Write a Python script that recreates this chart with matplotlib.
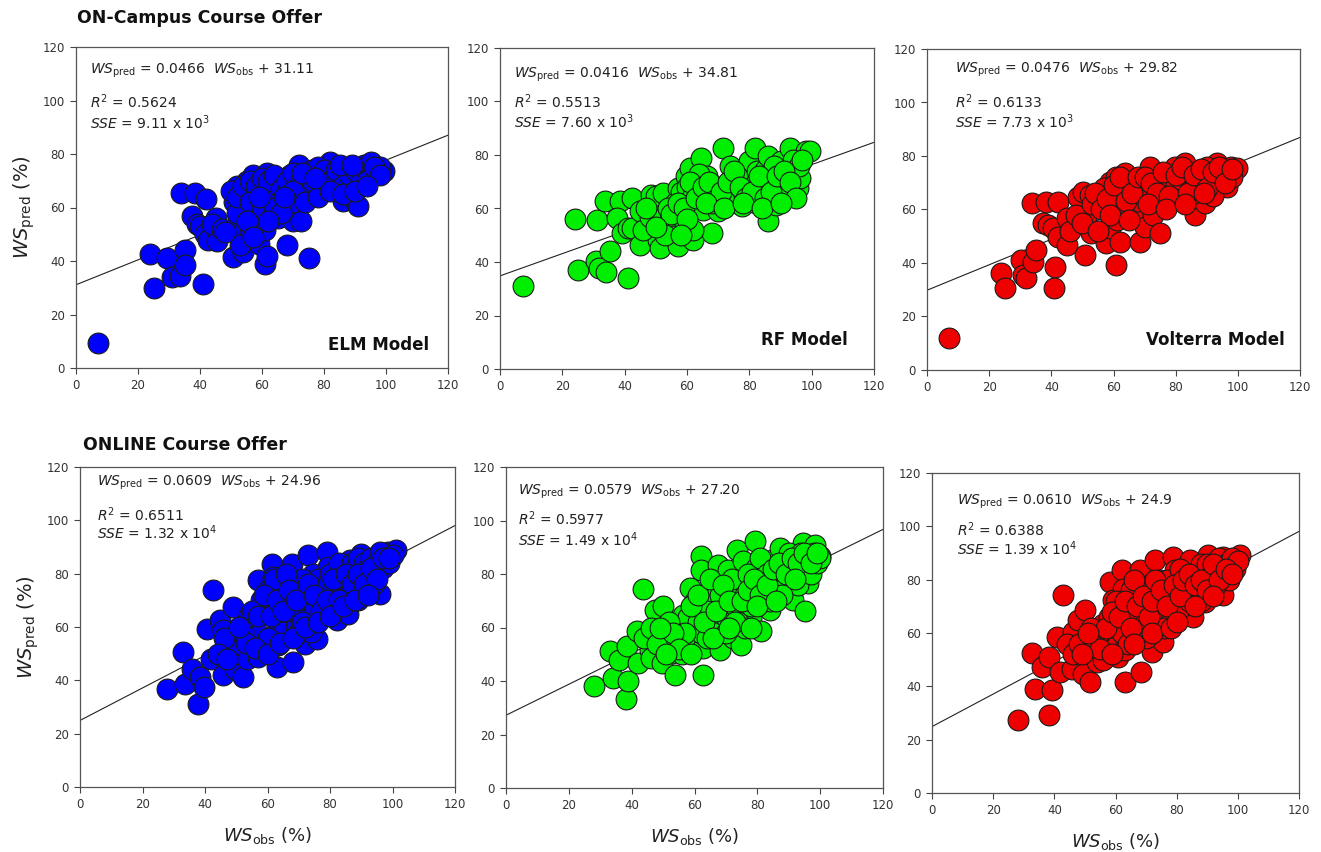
import numpy as np
import matplotlib
matplotlib.use("Agg")
import matplotlib.pyplot as plt

# ── data ────────────────────────────────────────────────────
# (WS_obs, WS_pred) pairs per model

elm_campus = [
    (7, 9.5), (24, 42.5), (25, 30), (29.5, 41), (31, 34), (33.5, 34.5), (35, 44), (35, 38.5),
    (34, 65.5), (38.5, 65.5), (42, 63), (37.5, 57), (39, 54), (40, 53), (41.5, 50), (41, 31.5),
    (42.5, 48), (45, 56), (45.5, 47.5), (44, 54), (47, 52), (50.5, 41.5), (51, 62), (51.5, 53),
    (53, 50), (54, 43.5), (52, 68), (50, 66), (55, 70), (56, 66), (57, 72), (58.5, 57),
    (59, 46.5), (61, 39), (61.5, 42), (61, 51.5), (61.5, 73), (63, 62), (60, 67), (64, 69),
    (65.5, 70.5), (65, 56), (66, 63), (67.5, 60), (68, 46), (69, 72), (70, 55), (71, 67),
    (72.5, 55), (72, 76), (73, 69), (74, 71), (75, 64), (75, 41), (76, 74), (77, 68),
    (78.5, 69), (79, 73), (80, 66), (81, 75.5), (82, 77), (83, 72), (84, 70), (85, 71),
    (86, 62.5), (87, 74), (88, 67), (89, 64), (90, 70), (91, 60.5), (92, 68), (93, 76),
    (94, 74), (95, 77), (96, 72), (97, 73.5), (99.5, 73.5), (58, 62), (55, 59), (62, 58),
    (54, 64), (63, 66), (68, 65), (70, 62), (80, 71), (84, 66), (92, 72), (98, 75),
    (56, 51), (58, 54), (52, 58), (53, 46),
    (52, 64), (54, 68), (56, 70), (58, 68), (60, 71), (62, 70), (64, 72), (66, 67), (68, 70),
    (70, 73), (72, 68), (74, 66), (76, 70), (78, 75), (80, 74), (82, 70), (84, 74), (86, 68),
    (88, 72), (90, 74), (92, 70), (94, 70), (96, 75), (98, 72), (56, 62), (60, 60), (64, 60),
    (66, 58), (70, 66), (74, 62), (78, 64), (82, 66), (86, 65), (90, 66), (94, 68), (48, 51),
    (55, 55), (57, 49), (62, 55), (59, 64), (67, 64), (73, 73), (77, 71), (85, 76), (89, 76),
]

rf_campus = [
    (7.3, 31.2), (24, 56.1), (25.1, 36.9), (31, 55.8), (30.7, 40.2), (31.8, 37.8), (34, 36.1),
    (35.3, 44), (33.7, 62.7), (38.5, 62.7), (42.5, 64), (37.4, 56.4), (39, 50.8), (41.1, 52.7),
    (42.2, 52.7), (41.1, 34), (44.9, 59), (44.9, 46.5), (48.6, 65.2), (50.2, 64.5), (52.4, 65.8),
    (50.8, 57.1), (50.8, 48.3), (51.3, 45.2), (52.9, 54.6), (55.6, 49.6), (57.2, 45.9),
    (57.2, 67.7), (59.3, 54.6), (59.8, 72), (61.8, 48.3), (60.9, 75.1), (61.6, 59.6),
    (64.6, 78.9), (66.3, 72), (65.2, 59.6), (67.9, 50.8), (69.5, 67), (70, 59), (71.6, 82.6),
    (73.7, 75.8), (74.8, 68.9), (75.3, 63.3), (75.9, 62.1), (77.5, 60.8), (79.1, 70.8),
    (79.9, 77.6), (81.7, 82.6), (82.3, 73.9), (83.3, 68.3), (85, 74.5), (86, 55.2), (86, 79.5),
    (87.6, 70.8), (88.7, 61.4), (90.3, 77.6), (91.9, 65.8), (92.9, 82.6), (94.6, 74.5),
    (95.6, 67.7), (96.2, 71.4), (98.3, 81.4), (99.4, 81.4), (56, 62), (58, 66), (60, 68),
    (62, 65), (63, 70), (64, 73), (66, 66), (68, 62), (70, 68), (72, 64), (76, 72), (78, 66),
    (80, 64), (82, 62), (84, 66), (86, 70), (88, 76), (90, 68), (92, 72), (94, 78), (96, 76),
    (46, 52), (48, 57), (54, 60), (53, 50), (62, 52),
    (55, 58), (57, 62), (59, 60), (61, 70), (63, 64), (65, 68), (67, 70), (69, 63), (71, 66),
    (73, 70), (75, 74), (77, 68), (79, 64), (81, 66), (83, 72), (85, 64), (87, 66), (89, 72),
    (91, 74), (93, 70), (95, 64), (97, 78), (60, 56), (66, 62), (72, 60), (78, 62), (84, 60),
    (90, 62), (50, 53), (47, 60), (58, 50),
]

volterra_campus = [
    (7, 11.8), (23.9, 36.1), (25, 30.5), (30.4, 41.1), (30.9, 35.5), (32, 34.3), (34.1, 40.5),
    (35, 44.9), (33.9, 62.6), (38.4, 62.9), (42.2, 62.9), (37.3, 55.1), (38.9, 54.2),
    (40.6, 53), (41.1, 38.6), (40.9, 30.5), (42.2, 49.8), (44.9, 56.7), (44.9, 46.7),
    (48.7, 64.8), (50.2, 66.7), (51.3, 57.3), (50.8, 43), (52.9, 51.1), (52.4, 65.4),
    (56.7, 66), (57.7, 47.4), (58.8, 53), (58.8, 70.4), (60.9, 72.3), (60.9, 39.3), (62, 48),
    (64.2, 59.8), (63.6, 73.5), (65.8, 70.4), (67.4, 59.8), (68.5, 48), (70.1, 53.6),
    (71.7, 76), (72.8, 57.9), (74.4, 70.4), (74.9, 51.1), (76, 63.6), (78.1, 68.5), (79.7, 76),
    (81.4, 73.5), (83, 77.3), (84.6, 70.4), (85.1, 67.3), (86.2, 57.9), (88.4, 63.6),
    (89.4, 62.3), (91, 72.3), (93.2, 77.3), (95.3, 73.5), (96.4, 68.5), (97.9, 76), (99.6, 75.4),
    (55, 62), (57, 68), (60, 64), (62, 67), (64, 66), (66, 70), (68, 63), (70, 68), (72, 66),
    (76, 70), (78, 72), (80, 69), (82, 64), (84, 74), (86, 66), (88, 70), (90, 76), (92, 65),
    (94, 71), (96, 74), (98, 72), (46, 52), (48, 58), (53, 62), (61, 56), (63, 60),
    (54, 66), (56, 60), (58, 64), (60, 69), (62, 72), (64, 63), (66, 66), (68, 72), (70, 72),
    (72, 70), (74, 66), (76, 74), (78, 65), (80, 73), (82, 76), (84, 66), (86, 73), (88, 75),
    (90, 68), (92, 74), (94, 76), (96, 70), (98, 75), (59, 58), (65, 56), (71, 62), (77, 60),
    (83, 62), (89, 66), (50, 55), (55, 52),
]

elm_online = [
    (27.7, 36.9), (33, 50.6), (33.6, 38.8), (35.7, 44.4), (37.8, 31.3), (38.4, 41.3),
    (39.6, 37.5), (40.5, 59.4), (41.8, 48.1), (42.6, 73.8), (45.8, 41.9), (44.8, 62.5),
    (45.8, 58.8), (49, 67.5), (50.1, 53.8), (49.5, 44.4), (52.2, 41.3), (53.3, 48.1),
    (55.4, 62.5), (57, 48.8), (57, 77.5), (58.6, 56.3), (59.7, 66.3), (61.3, 83.8),
    (61.8, 78.8), (62.9, 45), (63.4, 53.1), (65, 72.5), (66.1, 61.3), (66.7, 56.9),
    (67.7, 83.8), (68.2, 46.9), (68.7, 65), (70.9, 69.4), (71.9, 53.8), (73, 86.9), (74.6, 80),
    (75.7, 66.9), (75.7, 55.6), (78.9, 88.1), (79.4, 82.5), (81, 70.6), (82.1, 62.5),
    (83.1, 77.5), (85.8, 65), (86.3, 74.4), (86.3, 85), (89, 70), (90, 87.5), (90, 81.3),
    (92.7, 79.4), (95.9, 72.5), (95.9, 87.5), (98, 83.8), (98.6, 88.1), (101.2, 88.8),
    (56, 60), (58, 70), (60, 74), (62, 68), (63, 62), (64, 76), (65, 58), (66, 70), (67, 66),
    (68, 74), (69, 60), (70, 64), (71, 78), (72, 70), (73, 62), (74, 74), (75, 68), (76, 78),
    (77, 72), (78, 64), (79, 76), (80, 80), (81, 74), (82, 68), (83, 84), (84, 78), (85, 72),
    (86, 80), (87, 84), (88, 76), (89, 86), (90, 78), (91, 84), (92, 82), (93, 86), (94, 80),
    (95, 84), (96, 88), (97, 82), (98, 86), (99, 84), (100, 87), (52, 58), (54, 64), (48, 52),
    (46, 56), (44, 50), (60, 56), (70, 58), (78, 70), (86, 76), (94, 76), (62, 78), (66, 80),
    (74, 58), (82, 78),
    (55, 66), (57, 64), (59, 72), (61, 64), (63, 70), (65, 66), (67, 74), (69, 70), (71, 62),
    (73, 76), (75, 72), (77, 66), (79, 70), (81, 78), (83, 70), (85, 80), (87, 76), (89, 80),
    (91, 76), (93, 82), (95, 78), (97, 86), (99, 86), (53, 54), (56, 52), (60, 50), (64, 54),
    (68, 56), (72, 60), (76, 62), (80, 64), (84, 68), (88, 70), (92, 72), (47, 48), (51, 60),
]

rf_online = [
    (28, 38), (33.1, 51.1), (34.1, 41.1), (36, 48), (38.2, 33.3), (38.9, 39.9), (38.4, 53),
    (41.6, 58.6), (43.5, 74.4), (42.1, 46.7), (45.8, 51.7), (46.3, 48.6), (47.4, 66.7),
    (50, 68), (50, 56.7), (49.5, 46.7), (52.7, 50.5), (53.8, 42.4), (56.4, 64.8), (57.5, 53),
    (58.5, 74.8), (60.1, 55.5), (62.2, 86.6), (62.2, 81.6), (62.8, 42.4), (62.8, 52.3),
    (63.8, 70.4), (65.4, 72.9), (65.9, 61.7), (67.5, 83.5), (68.1, 51.7), (69.1, 66.7),
    (70.7, 81.6), (71.8, 72.9), (72.3, 56.1), (73.4, 89.1), (74.9, 53.6), (75.5, 65.4),
    (75.5, 77.3), (75.5, 84.7), (78.1, 63.6), (79.2, 92.2), (79.7, 82.2), (81.3, 58.6),
    (82.4, 72.3), (84, 66.7), (84.8, 85.4), (85.5, 77.9), (86.6, 72.9), (87.1, 89.7),
    (90.3, 78.5), (91.4, 70.4), (92.4, 86.6), (94.6, 91.6), (95.1, 66), (96.2, 76.6),
    (96.7, 86.6), (97.7, 82.9), (98.3, 91), (99.9, 86.6), (55, 60), (58, 64), (60, 70),
    (61, 62), (64, 66), (66, 76), (67, 58), (68, 72), (70, 64), (72, 78), (73, 68), (74, 62),
    (76, 72), (77, 80), (78, 68), (80, 76), (81, 86), (82, 70), (83, 80), (85, 74), (86, 82),
    (87, 78), (88, 84), (89, 76), (90, 88), (91, 80), (92, 84), (93, 76), (94, 88), (95, 82),
    (96, 86), (97, 80), (98, 88), (99, 84), (100, 86), (44, 56), (46, 60), (48, 54), (52, 62),
    (54, 56), (56, 50), (62, 58), (64, 56), (70, 58), (76, 60), (84, 70), (88, 72),
    (57, 58), (59, 68), (61, 72), (63, 62), (65, 78), (67, 66), (69, 76), (71, 70), (73, 62),
    (75, 70), (77, 74), (79, 78), (81, 72), (83, 76), (85, 82), (87, 84), (89, 80), (91, 86),
    (93, 84), (95, 88), (97, 84), (99, 88), (53, 58), (55, 52), (59, 50), (66, 56), (71, 60),
    (78, 60), (80, 68), (86, 70), (92, 78), (49, 60), (51, 50),
]

volterra_online = [
    (28, 27.5), (32.6, 52.5), (33.7, 39.1), (35.9, 47.3), (38.1, 29.1), (38.1, 51),
    (39.2, 38.8), (40.8, 58.5), (41.9, 45.4), (42.7, 74.4), (45.7, 46.6), (46.2, 60.4),
    (47.9, 64.8), (50, 68.5), (50, 55.4), (49.5, 44.8), (51.7, 41.6), (53.8, 49.1), (56, 63.5),
    (57.1, 54.8), (58.2, 79.1), (59.3, 72.3), (60.9, 51), (62, 83.5), (62.6, 76.6),
    (63.1, 41.6), (63.1, 53.5), (65.8, 68.5), (68, 83.5), (68.5, 45.4), (69.1, 63.5),
    (70.2, 69.8), (71.8, 52.9), (72.9, 87.3), (74.5, 79.8), (75.6, 66), (75.6, 56.6),
    (77.2, 74.1), (78.9, 88.5), (79.4, 83.5), (81, 68.5), (84.3, 87.3), (85.4, 66),
    (86.5, 76.6), (87.6, 80.4), (89.2, 71.6), (90.3, 82.3), (90.3, 89.1), (92.5, 77.3),
    (95.2, 74.1), (95.2, 88.5), (96.8, 83.5), (97.9, 86.6), (98.5, 85.4), (100.6, 89.1),
    (55, 60), (58, 66), (60, 72), (61, 62), (64, 66), (65, 76), (67, 58), (68, 72), (70, 64),
    (71, 78), (73, 68), (74, 62), (76, 72), (77, 80), (78, 68), (80, 76), (81, 84), (82, 70),
    (83, 80), (85, 74), (86, 82), (87, 78), (88, 86), (89, 76), (90, 86), (91, 80), (92, 84),
    (93, 78), (94, 88), (95, 82), (96, 86), (97, 80), (98, 88), (99, 84), (100, 87),
    (44, 56), (46, 52), (48, 56), (52, 62), (54, 58), (56, 50), (62, 60), (64, 56), (70, 58),
    (76, 62), (84, 72), (88, 72),
    (57, 62), (59, 68), (61, 66), (63, 72), (65, 62), (66, 80), (67, 70), (69, 74), (71, 66),
    (72, 72), (73, 80), (75, 76), (77, 70), (79, 78), (81, 74), (82, 80), (84, 82), (86, 78),
    (88, 80), (90, 76), (92, 86), (94, 80), (96, 84), (98, 82), (53, 55), (55, 54), (59, 52),
    (66, 56), (72, 60), (78, 62), (80, 64), (86, 70), (92, 74), (51, 60), (49, 52),
]

# fitted line (intercept, slope as drawn) and the printed labels
intercepts = [31.11, 34.81, 29.82, 24.96, 27.20, 24.9]
slopes = [0.466, 0.416, 0.476, 0.609, 0.579, 0.610]
eq_texts = ["0.0466", "0.0416", "0.0476", "0.0609", "0.0579", "0.0610"]
eq_consts = ["31.11", "34.81", "29.82", "24.96", "27.20", "24.9"]
r2_texts = ["0.5624", "0.5513", "0.6133", "0.6511", "0.5977", "0.6388"]
sse_texts = ["9.11", "7.60", "7.73", "1.32", "1.49", "1.39"]
sse_exps = ["3", "3", "3", "4", "4", "4"]
model_names = ["ELM Model", "RF Model", "Volterra Model", None, None, None]
row_titles = ["ON-Campus Course Offer", "ONLINE Course Offer"]

panels = [elm_campus, rf_campus, volterra_campus, elm_online, rf_online, volterra_online]
colors = ["#0000ff", "#00ee00", "#ee0000", "#0000ff", "#00ee00", "#ee0000"]

############################################################
# Layout (pixel boxes: left, top, right, bottom)
############################################################

W, H = 1321, 852
boxes = [
    (76, 47, 448, 368), (500, 48, 874, 369), (927, 49, 1300, 370),
    (80, 467, 455, 787), (506, 467, 883, 788), (932, 473, 1299, 793),
]
# text anchor positions in axes fraction: (x, eq_y, r2_y, sse_y)
txt_pos = [
    (0.038, 0.925, 0.83, 0.765), (0.037, 0.915, 0.833, 0.77), (0.075, 0.935, 0.836, 0.774),
    (0.045, 0.952, 0.85, 0.794), (0.032, 0.923, 0.838, 0.775), (0.067, 0.91, 0.822, 0.762),
]
name_pos = [(0.95, 0.072), (0.93, 0.09), (0.96, 0.093)]

plt.rcParams["mathtext.fontset"] = "dejavusans"
fig = plt.figure(figsize=(W / 100, H / 100), dpi=100)

for i, pts in enumerate(panels):
    l, t, r, b = boxes[i]
    ax = fig.add_axes([l / W, 1 - b / H, (r - l) / W, (b - t) / H])
    pts = np.array(pts)

    xs = np.array([0, 120])
    ax.plot(xs, intercepts[i] + slopes[i] * xs, color="#222222", lw=0.8, zorder=1)
    ax.scatter(pts[:, 0], pts[:, 1], s=225, c=colors[i], edgecolors="#1a1a1a",
               linewidths=0.8, zorder=2)

    ax.set_xlim(0, 120)
    ax.set_ylim(0, 120)
    ax.set_xticks(range(0, 121, 20))
    ax.set_yticks(range(0, 121, 20))
    ax.tick_params(direction="out", length=4, width=0.8, labelsize=8.5,
                   colors="#444444", labelcolor="#333333", pad=4)
    for sp in ax.spines.values():
        sp.set_color("#555555")
        sp.set_linewidth(0.9)

    tx, ey, ry, sy = txt_pos[i]
    ax.text(tx, ey, r"$\it{WS}_{\rm pred}$ = " + eq_texts[i] + r"  $\it{WS}_{\rm obs}$ + "
            + eq_consts[i], transform=ax.transAxes, fontsize=10, va="center",
            color="#222222")
    ax.text(tx, ry, r"$\it{R}^2$ = " + r2_texts[i], transform=ax.transAxes,
            fontsize=10, va="center", color="#222222")
    ax.text(tx, sy, r"$\it{SSE}$ = " + sse_texts[i] + r" x 10$^{" + sse_exps[i] + "}$",
            transform=ax.transAxes, fontsize=10, va="center", color="#222222")

    if model_names[i]:
        nx, ny = name_pos[i]
        ax.text(nx, ny, model_names[i], transform=ax.transAxes, fontsize=12,
                fontweight="bold", ha="right", va="center", color="#111111")

    if i % 3 == 0:
        ax.set_ylabel(r"$\it{WS}_{\rm pred}$ (%)", fontsize=14, color="#222222", labelpad=4)
    if i >= 3:
        ax.set_xlabel(r"$\it{WS}_{\rm obs}$ (%)", fontsize=13, color="#222222", labelpad=10)

fig.text(77 / W, 1 - 18 / H, row_titles[0], fontsize=12.5, fontweight="bold",
         va="center", ha="left", color="#111111")
fig.text(83 / W, 1 - 445 / H, row_titles[1], fontsize=12.5, fontweight="bold",
         va="center", ha="left", color="#111111")

fig.savefig("out.png", dpi=100)
